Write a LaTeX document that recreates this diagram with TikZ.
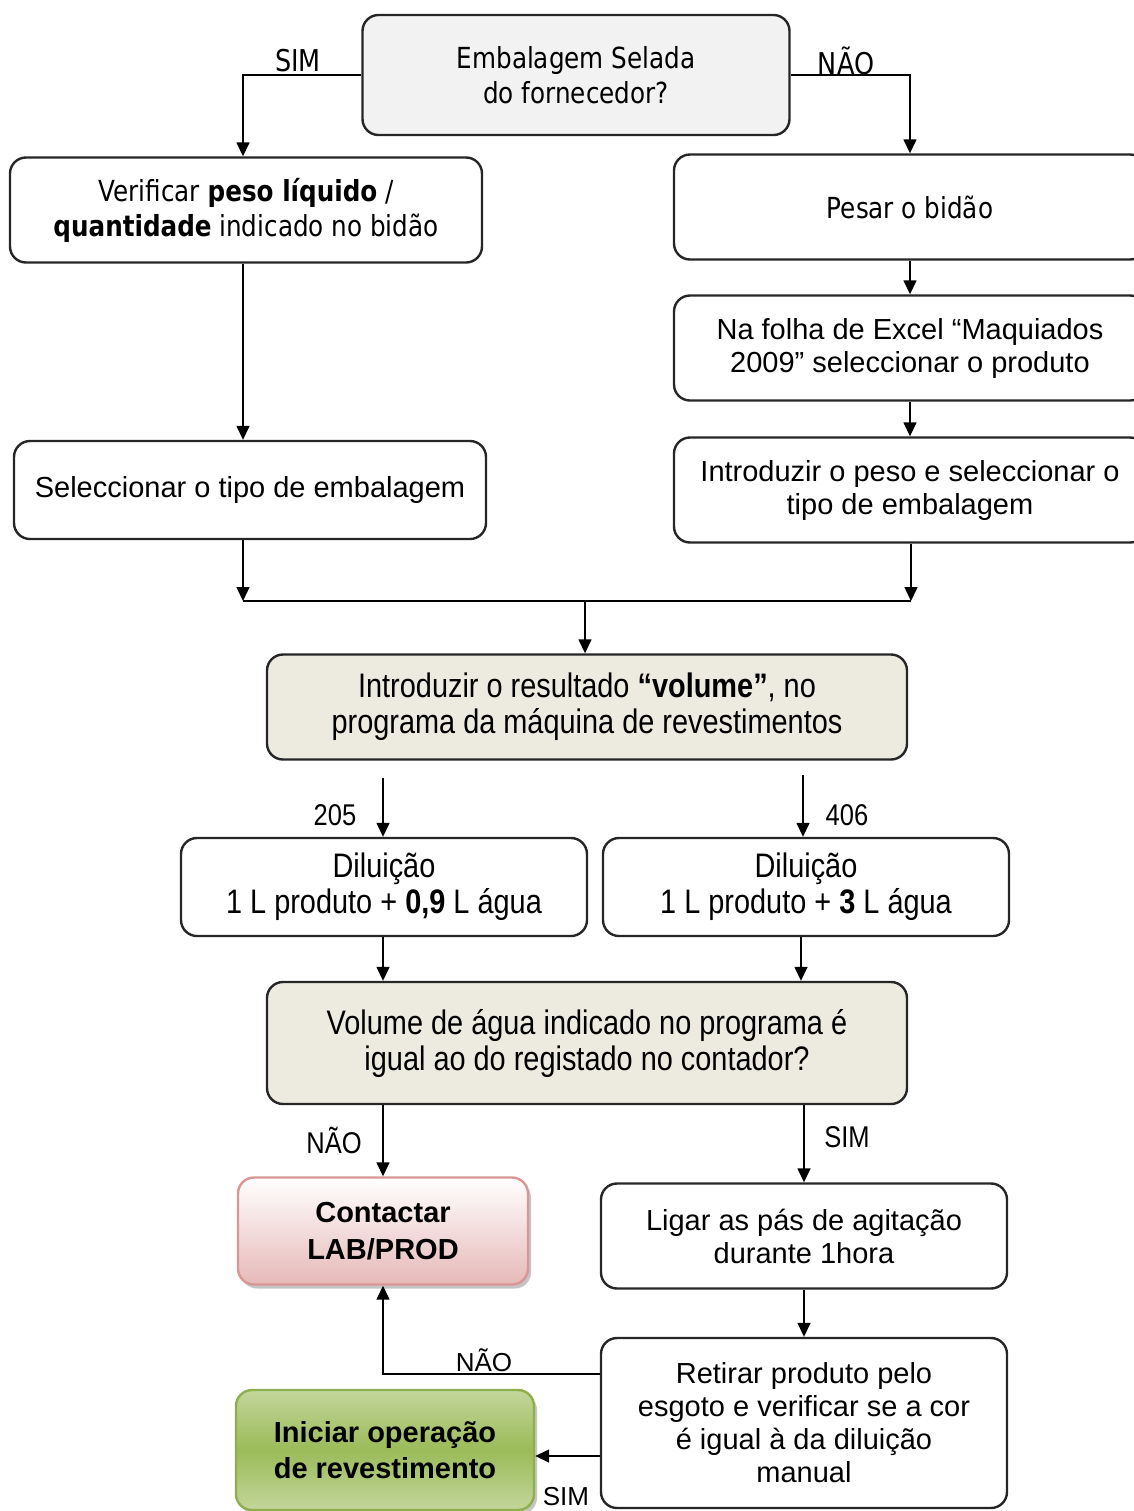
\documentclass[tikz,border=0pt]{standalone}
\usepackage{fontspec}
\setmainfont{Liberation Sans}
\newfontfamily\topfont[FakeStretch=0.85]{DejaVu Sans}
\newfontfamily\narrowfont[FakeStretch=0.85]{Liberation Sans}
\usetikzlibrary{arrows.meta, shadows}

\definecolor{boxgray}{HTML}{F2F2F2}
\definecolor{boxbeige}{HTML}{EDEBE0}
\definecolor{pinkline}{HTML}{D99694}
\definecolor{pinkfill}{HTML}{E6B9B8}
\definecolor{greenline}{HTML}{8EB04C}
\definecolor{greenlight}{HTML}{C3D69B}
\definecolor{greendark}{HTML}{9BBB59}

\begin{document}
\begin{tikzpicture}[x=0.5pt, y=-0.5pt,
    box/.style={draw=black!85, line width=1.2pt, rounded corners=8pt, align=center, inner sep=0pt},
    conn/.style={line width=0.75pt, -{Triangle[length=7pt,width=6.5pt]}},
    link/.style={line width=0.75pt},
    plain/.style={font=\fontsize{14.5}{16.5}\selectfont},
    narrow/.style={font=\narrowfont\fontsize{17}{18}\selectfont},
    toptext/.style={font=\topfont\fontsize{14.5}{17.5}\selectfont},
    toplbl/.style={font=\topfont\fontsize{15}{17}\selectfont, inner sep=0pt},
    narrowlbl/.style={font=\narrowfont\fontsize{15}{17}\selectfont, inner sep=0pt},
    lbl/.style={font=\fontsize{13}{15}\selectfont, inner sep=0pt}
]
    \useasboundingbox (0,0) rectangle (1134,1511);

    % Question at the top
    \node[box, toptext, fill=boxgray, minimum width=213.5pt, minimum height=60pt] (emb) at (576,75) {Embalagem Selada\\do fornecedor?};

    % Left branch
    \node[box, toptext, minimum width=236pt, minimum height=52.5pt] (verif) at (246,210) {Verificar \textbf{peso líquido} /\\\textbf{quantidade} indicado no bidão};
    \node[box, plain, minimum width=236pt, minimum height=49pt] (selec) at (250,490) {Seleccionar o tipo de embalagem};

    % Right branch
    \node[box, toptext, minimum width=236pt, minimum height=52.5pt] (pesar) at (910,207) {Pesar o bidão};
    \node[box, plain, minimum width=236pt, minimum height=52.5pt] (folha) at (910,348) {Na folha de Excel “Maquiados\\2009” seleccionar o produto};
    \node[box, plain, minimum width=236pt, minimum height=52.5pt] (peso) at (910,490) {Introduzir o peso e seleccionar o\\tipo de embalagem};

    \node[toplbl] (simtop) at (298,61) {SIM};
    \node[toplbl] (naotop) at (846,61) {NÃO};
    \draw[conn] (emb.west) -| (verif.north -| 243,0);
    \draw[conn] (emb.east) -| (pesar.north);
    \draw[conn] (verif.south -| 243,0) -- (selec.north -| 243,0);
    \draw[conn] (pesar) -- (folha);
    \draw[conn] (folha) -- (peso);

    % Joining both branches
    \coordinate (joinL) at (243,601);
    \coordinate (joinR) at (911,601);
    \coordinate (joinM) at (585,601);
    \draw[conn] (selec.south -| joinL) -- (joinL);
    \draw[conn] (peso.south -| joinR) -- (joinR);
    \draw[link] (joinL) -- (joinR);

    \node[box, narrow, fill=boxbeige, minimum width=320pt, minimum height=52.5pt] (result) at (587,707) {Introduzir o resultado \textbf{“volume”}, no\\programa da máquina de revestimentos};
    \draw[conn] (joinM) -- (joinM |- result.north);

    % Dilutions
    \node[box, narrow, minimum width=203pt, minimum height=49pt] (dilA) at (384,887) {Diluição\\1 L produto + \textbf{0,9} L água};
    \node[box, narrow, minimum width=203pt, minimum height=49pt] (dilB) at (806,887) {Diluição\\1 L produto + \textbf{3} L água};
    \coordinate (from205) at (383,778);
    \coordinate (from406) at (803,775);
    \draw[conn] (from205) -- (from205 |- dilA.north);
    \draw[conn] (from406) -- (from406 |- dilB.north);
    \node[narrowlbl] (l205) at (335,815) {205};
    \node[narrowlbl] (l406) at (847,815) {406};

    % Water check
    \node[box, narrow, fill=boxbeige, minimum width=320pt, minimum height=61pt] (vol) at (587,1043) {Volume de água indicado no programa é\\igual ao do registado no contador?};
    \draw[conn] (dilA.south -| 383,0) -- (vol.north -| 383,0);
    \draw[conn] (dilB.south -| 801,0) -- (vol.north -| 801,0);

    \node[box, font=\bfseries\fontsize{14.5}{18.5}\selectfont, draw=pinkline, top color=white, bottom color=pinkfill,
          drop shadow={shadow xshift=1.5pt, shadow yshift=-2pt, fill=black!45},
          minimum width=145pt, minimum height=53.5pt] (contact) at (383,1231) {Contactar\\LAB/PROD};
    \node[box, plain, minimum width=203pt, minimum height=52.5pt] (ligar) at (804,1236) {Ligar as pás de agitação\\durante 1hora};
    \draw[conn] (contact.north |- vol.south) -- (contact.north);
    \draw[conn] (ligar.north |- vol.south) -- (ligar.north);
    \node[narrowlbl] (naovol) at (334,1140) {NÃO};
    \node[narrowlbl] (simvol) at (847,1137) {SIM};

    % Colour check and start
    \node[box, plain, minimum width=203pt, minimum height=85pt] (retirar) at (804,1423) {Retirar produto pelo\\esgoto e verificar se a cor\\é igual à da diluição\\manual};
    \draw[conn] (ligar) -- (retirar);

    \node[box, font=\bfseries\fontsize{14.5}{18}\selectfont, draw=greenline, top color=greenlight, bottom color=greenlight, middle color=greendark,
          drop shadow={shadow xshift=1.5pt, shadow yshift=-2pt, fill=black!45},
          minimum width=149pt, minimum height=60pt] (iniciar) at (385,1450) {Iniciar operação\\de revestimento};

    \draw[conn] ([yshift=24.5pt]retirar.west) -| (contact.south);
    \draw[conn] ([yshift=-16.5pt]retirar.west) -- ([yshift=-16.5pt]retirar.west -| iniciar.east);
    \node[lbl] (naoret) at (484,1360) {NÃO};
    \node[lbl] (simret) at (566,1497) {SIM};
\end{tikzpicture}
\end{document}
